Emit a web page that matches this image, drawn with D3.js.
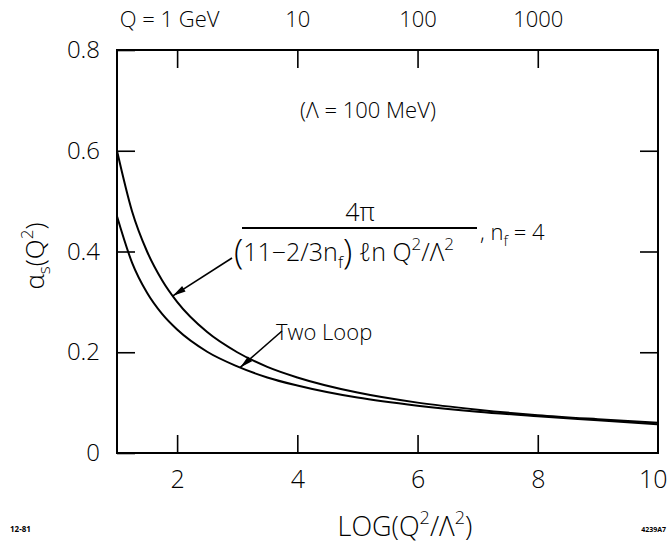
<!DOCTYPE html>
<html>
<head>
<meta charset="utf-8">
<script src="https://cdn.jsdelivr.net/npm/d3@7"></script>
<style>
  html, body { margin: 0; padding: 0; background: #fff; }
  svg { display: block; }
  text { font-family: "Open Sans", "Lato", "DejaVu Sans", sans-serif; font-weight: 300; fill: #000; }
</style>
</head>
<body>
<svg id="chart" width="668" height="545"></svg>
<script>
// log10(Q^2 / Lambda^2) sample points
const logQ2 = [1, 1.25, 1.5, 1.75, 2, 2.5, 3, 3.5, 4, 5, 6, 7, 8, 9, 10];
// leading-order (one loop) coupling
const oneLoop = [0.600, 0.480, 0.400, 0.343, 0.300, 0.240, 0.200, 0.171, 0.150, 0.120, 0.100, 0.086, 0.075, 0.067, 0.060];
// two-loop coupling
const twoLoop = [0.470, 0.378, 0.318, 0.276, 0.245, 0.201, 0.172, 0.150, 0.134, 0.110, 0.094, 0.082, 0.073, 0.065, 0.057];

const xTicks = [2, 4, 6, 8, 10];
const yTicks = [0, 0.2, 0.4, 0.6, 0.8];
const topTicks = [2, 4, 6, 8];
const topTickLabels = ["Q = 1 GeV", "10", "100", "1000"];

const svg = d3.select("#chart");
const W = 668, H = 545;
const m = { left: 117, right: 10, top: 50, bottom: 92 };

const x = d3.scaleLinear().domain([1, 10]).range([m.left, W - m.right]);
const y = d3.scaleLinear().domain([0, 0.8]).range([H - m.bottom, m.top]);

const tickLen = 18;

// bottom axis: inward ticks, numeric labels below
const gB = svg.append("g").attr("transform", `translate(0,${y(0)})`)
  .call(d3.axisBottom(x).tickValues(xTicks).tickSize(-tickLen).tickPadding(12)
    .tickFormat(d => d3.format("d")(d)));
gB.selectAll(".tick line").filter(d => d === 10).remove();
gB.selectAll("text").attr("font-size", 25).attr("dy", "0.9em");
// the last label sits at the right edge of the page
gB.selectAll(".tick").filter(d => d === 10).select("text")
  .attr("text-anchor", "end").attr("x", W - 1 - x(10));

// left axis
const gL = svg.append("g").attr("transform", `translate(${x(1)},0)`)
  .call(d3.axisLeft(y).tickValues(yTicks).tickSize(-tickLen).tickPadding(17)
    .tickFormat(d => d === 0 ? "0" : d3.format(".1f")(d)));
gL.selectAll("text").attr("font-size", 24);

// right axis: ticks only
const gR = svg.append("g").attr("transform", `translate(${x(10)},0)`)
  .call(d3.axisRight(y).tickValues(yTicks.slice(1, -1)).tickSize(-tickLen).tickFormat(""));

// top axis: Q scale labels
const gT = svg.append("g").attr("transform", `translate(0,${y(0.8)})`)
  .call(d3.axisTop(x).tickValues(topTicks).tickSize(-tickLen).tickPadding(23)
    .tickFormat((d, i) => topTickLabels[i]));
gT.selectAll("text").attr("font-size", 22);
gT.selectAll(".tick").filter((d, i) => i === 0).select("text").attr("dx", -8);

[gB, gL, gR, gT].forEach(g => {
  g.select(".domain").remove();
  g.selectAll(".tick line").attr("stroke", "#000").attr("stroke-width", 1.6);
});

// frame
svg.append("rect")
  .attr("x", x(1)).attr("y", y(0.8))
  .attr("width", x(10) - x(1)).attr("height", y(0) - y(0.8))
  .attr("fill", "none").attr("stroke", "#000").attr("stroke-width", 2);

// curves
const line = d3.line().curve(d3.curveMonotoneX);
function pts(vals) { return logQ2.map((v, i) => [x(v), y(vals[i])]); }
svg.append("path").attr("d", line(pts(oneLoop)))
  .attr("fill", "none").attr("stroke", "#000").attr("stroke-width", 2);
svg.append("path").attr("d", line(pts(twoLoop)))
  .attr("fill", "none").attr("stroke", "#000").attr("stroke-width", 2);

// value of a series at a given log(Q^2/Lambda^2), for arrow tips
function valueAt(vals, L) {
  const i = Math.min(d3.bisectRight(logQ2, L) - 1, logQ2.length - 2);
  const t = (L - logQ2[i]) / (logQ2[i + 1] - logQ2[i]);
  return vals[i] + t * (vals[i + 1] - vals[i]);
}

function arrow(x0, y0, L, vals) {
  const x1 = x(L), y1 = y(valueAt(vals, L));
  svg.append("line").attr("x1", x0).attr("y1", y0).attr("x2", x1).attr("y2", y1)
    .attr("stroke", "#000").attr("stroke-width", 1.6);
  const a = Math.atan2(y1 - y0, x1 - x0), len = 13, wid = 3.2;
  const bx = x1 - len * Math.cos(a), by = y1 - len * Math.sin(a);
  const nx = -Math.sin(a) * wid, ny = Math.cos(a) * wid;
  svg.append("path")
    .attr("d", `M${x1},${y1}L${bx + nx},${by + ny}L${bx - nx},${by - ny}Z`)
    .attr("fill", "#000");
}

// Lambda annotation
svg.append("text").attr("x", 300).attr("y", 118).attr("font-size", 22)
  .text("(Λ = 100 MeV)");

// one-loop formula
svg.append("text").attr("x", 360).attr("y", 221).attr("font-size", 25)
  .attr("text-anchor", "middle").text("4π");
svg.append("line").attr("x1", 242).attr("x2", 477).attr("y1", 228).attr("y2", 228)
  .attr("stroke", "#000").attr("stroke-width", 2);
const den = svg.append("text").attr("x", 234).attr("y", 261).attr("font-size", 25);
den.append("tspan").attr("font-size", 34).attr("dy", 3).text("(");
den.append("tspan").attr("dy", -3).text("11−2/3n");
den.append("tspan").attr("font-size", 17).attr("dy", 7).text("f");
den.append("tspan").attr("font-size", 34).attr("dy", -4).text(")");
den.append("tspan").attr("dy", -3).text(" ℓn Q");
den.append("tspan").attr("font-size", 17).attr("dy", -11).text("2");
den.append("tspan").attr("dy", 11).text("/Λ");
den.append("tspan").attr("font-size", 17).attr("dy", -11).text("2");
const nf = svg.append("text").attr("x", 480).attr("y", 240).attr("font-size", 22);
nf.append("tspan").text(", n");
nf.append("tspan").attr("font-size", 15).attr("dy", 6).text("f");
nf.append("tspan").attr("dy", -6).text(" = 4");
arrow(232, 258, 1.93, oneLoop);

// two-loop label
svg.append("text").attr("x", 276).attr("y", 340).attr("font-size", 22).text("Two Loop");
arrow(282, 331, 3.05, twoLoop);

// axis titles
const yl = svg.append("text").attr("transform", "translate(44,256) rotate(-90)")
  .attr("text-anchor", "middle").attr("font-size", 26);
yl.append("tspan").text("α");
yl.append("tspan").attr("font-size", 17).attr("dy", 6).text("s");
yl.append("tspan").attr("dy", -6).text("(Q");
yl.append("tspan").attr("font-size", 17).attr("dy", -11).text("2");
yl.append("tspan").attr("dy", 11).text(")");

const xl = svg.append("text").attr("x", 405).attr("y", 536)
  .attr("text-anchor", "middle").attr("font-size", 27);
xl.append("tspan").text("LOG(Q");
xl.append("tspan").attr("font-size", 18).attr("dy", -12).text("2");
xl.append("tspan").attr("dy", 12).text("/Λ");
xl.append("tspan").attr("font-size", 18).attr("dy", -12).text("2");
xl.append("tspan").attr("dy", 12).text(")");

// figure ids
svg.append("text").attr("x", 10).attr("y", 532).attr("font-size", 8)
  .style("font-weight", "bold").text("12-81");
svg.append("text").attr("x", 666).attr("y", 532).attr("font-size", 7)
  .style("font-weight", "bold").attr("text-anchor", "end").text("4239A7");
</script>
</body>
</html>
